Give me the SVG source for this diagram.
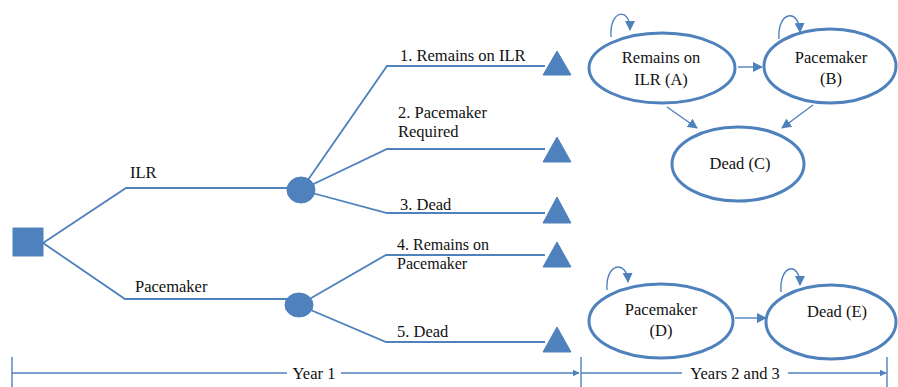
<svg xmlns="http://www.w3.org/2000/svg" width="898" height="387" viewBox="0 0 898 387">
<style>
text{font-family:'Liberation Serif','Times New Roman',Times,'DejaVu Serif',serif;font-size:16.5px;fill:#111}
.c{text-anchor:middle}
.s{font-size:16px}
.br{fill:none;stroke:#4F81BD;stroke-width:1.8}
.ar{fill:none;stroke:#4F81BD;stroke-width:1.4}
.fill{fill:#4F81BD;stroke:#4F81BD;stroke-width:1}
.st{fill:#fff;stroke:#4F81BD;stroke-width:3}
</style>
<defs>
<marker id="ah" viewBox="0 0 10 10" refX="9" refY="5" markerWidth="7" markerHeight="7" markerUnits="userSpaceOnUse" orient="auto">
<path d="M0,0 L10,5 L0,10 z" fill="#4F81BD"/>
</marker>
<marker id="ah2" viewBox="0 0 10 10" refX="9" refY="5" markerWidth="10" markerHeight="10" markerUnits="userSpaceOnUse" orient="auto">
<path d="M0,0 L10,5 L0,10 z" fill="#4F81BD"/>
</marker>
</defs>
<g id="connectors">
<polyline class="br" points="43,243 126,188 301,188"/>
<polyline class="br" points="43,243 125,299 299,299"/>
<polyline class="br" points="301,190 387,66 545,66"/>
<polyline class="br" points="301,190 387,149 545,149"/>
<polyline class="br" points="301,190 387,213 545,213"/>
<polyline class="br" points="299,305 386,255 545,255"/>
<polyline class="br" points="299,305 386,342 545,342"/>
<line class="ar" x1="738" y1="67" x2="762" y2="67" marker-end="url(#ah2)"/>
<line class="ar" x1="667" y1="107" x2="697" y2="128" marker-end="url(#ah2)"/>
<line class="ar" x1="813" y1="105" x2="782" y2="128" marker-end="url(#ah2)"/>
<line class="ar" x1="735" y1="318" x2="766" y2="318" marker-end="url(#ah2)"/>
<path class="ar" d="M611,37 C609,10 630,6 630,30" marker-end="url(#ah2)"/>
<path class="ar" d="M779,39 C777,11 799,8 800,32" marker-end="url(#ah2)"/>
<path class="ar" d="M607,290 C605,263 627,259 628,282" marker-end="url(#ah2)"/>
<path class="ar" d="M781,292 C779,264 800,261 800,285" marker-end="url(#ah2)"/>
</g>
<g id="decision"><rect class="fill" x="13" y="228" width="30" height="28"/></g>
<g id="chance-ilr"><ellipse class="fill" cx="301" cy="190" rx="14" ry="13"/></g>
<g id="chance-pm"><ellipse class="fill" cx="299" cy="305" rx="14" ry="12"/></g>
<g id="label-ilr"><text x="130" y="178">ILR</text></g>
<g id="label-pm"><text x="135" y="292">Pacemaker</text></g>
<g id="outcome-1"><polygon class="fill" points="557,51 571,75 543,75"/><text x="400" y="61">1. Remains on ILR</text></g>
<g id="outcome-2"><polygon class="fill" points="557,137 571,162 543,162"/><text x="398" y="118">2. Pacemaker</text><text x="398" y="137">Required</text></g>
<g id="outcome-3"><polygon class="fill" points="557,197 571,223 543,223"/><text x="400" y="210">3. Dead</text></g>
<g id="outcome-4"><polygon class="fill" points="557,242 571,267 543,267"/><text class="s" x="397" y="250">4. Remains on</text><text class="s" x="397" y="269">Pacemaker</text></g>
<g id="outcome-5"><polygon class="fill" points="557,327 571,352 543,352"/><text x="397" y="337">5. Dead</text></g>
<g id="state-A"><ellipse class="st" cx="662" cy="68" rx="73" ry="35"/><text class="c" x="661" y="63">Remains on</text><text class="c" x="661" y="85">ILR (A)</text></g>
<g id="state-B"><ellipse class="st" cx="830" cy="66" rx="66" ry="37"/><text class="c" x="831" y="63">Pacemaker</text><text class="c" x="831" y="84">(B)</text></g>
<g id="state-C"><ellipse class="st" cx="738" cy="164" rx="66" ry="37"/><text class="c" x="740" y="169">Dead (C)</text></g>
<g id="state-D"><ellipse class="st" cx="661" cy="321" rx="72" ry="37"/><text class="c" x="661" y="315">Pacemaker</text><text class="c" x="661" y="336">(D)</text></g>
<g id="state-E"><ellipse class="st" cx="831" cy="322" rx="65" ry="37"/><text class="c" x="837" y="317">Dead (E)</text></g>
<g id="timeline">
<line class="ar" x1="12" y1="357" x2="12" y2="387"/>
<line class="ar" x1="581" y1="357" x2="581" y2="387"/>
<line class="ar" x1="887" y1="357" x2="887" y2="387"/>
<line class="ar" x1="12" y1="373" x2="287" y2="373"/>
<line class="ar" x1="341" y1="373" x2="579" y2="373" marker-end="url(#ah)"/>
<line class="ar" x1="581" y1="373" x2="682" y2="373"/>
<line class="ar" x1="788" y1="373" x2="886" y2="373" marker-end="url(#ah)"/>
<text class="c" x="314" y="379">Year 1</text>
<text class="c" x="735" y="379">Years 2 and 3</text>
</g>
</svg>
